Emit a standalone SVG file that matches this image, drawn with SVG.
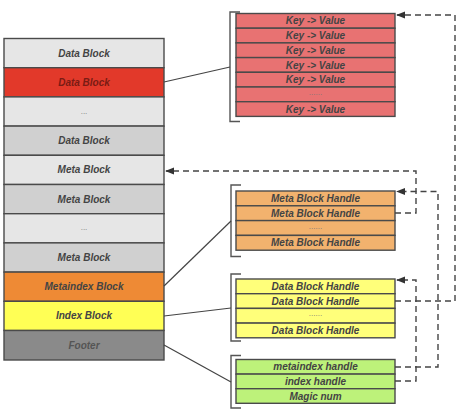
<svg xmlns="http://www.w3.org/2000/svg" width="464" height="410" viewBox="0 0 464 410">
<defs>
<marker id="ah" viewBox="0 0 10 10" refX="9" refY="5" markerWidth="9" markerHeight="9" markerUnits="userSpaceOnUse" orient="auto">
<path d="M0,1 L10,5 L0,9 z" fill="#333"/>
</marker>
<style>
.cell{stroke:#4a4a4a;stroke-width:1.4}
.t{font-family:"Liberation Sans",Arial,sans-serif;font-size:10px;font-weight:bold;font-style:italic;fill:#444;text-anchor:middle;dominant-baseline:central}
.dots{font-family:"Liberation Sans",Arial,sans-serif;font-size:8px;fill:#777;text-anchor:middle}
.lg{fill:#e6e6e6}.dg{fill:#d0d0d0}
.kv{fill:#e87272}.mb{fill:#f2b26e}.ib{fill:#ffff7a}.ft{fill:#bdf27a}
.br{fill:none;stroke:#555;stroke-width:1.4}
.ln{fill:none;stroke:#444;stroke-width:1.2}
.ds{fill:none;stroke:#444;stroke-width:1.4;stroke-dasharray:6 4}
</style>
</defs>
<rect width="464" height="410" fill="#fff"/>

<g id="sstable">
<rect class="cell lg" x="4" y="38.5" width="160" height="29.2"/>
<text class="t" x="84" y="53.1">Data Block</text>
<rect class="cell" fill="#e2392a" x="4" y="67.7" width="160" height="29.2"/>
<text class="t" x="84" y="82.3" style="fill:#7a1c14">Data Block</text>
<rect class="cell lg" x="4" y="96.9" width="160" height="29.2"/>
<text class="dots" x="84" y="113.5">...</text>
<rect class="cell dg" x="4" y="126.1" width="160" height="29.2"/>
<text class="t" x="84" y="140.7">Data Block</text>
<rect class="cell lg" x="4" y="155.3" width="160" height="29.2"/>
<text class="t" x="84" y="169.9">Meta Block</text>
<rect class="cell dg" x="4" y="184.5" width="160" height="29.2"/>
<text class="t" x="84" y="199.1">Meta Block</text>
<rect class="cell lg" x="4" y="213.7" width="160" height="29.2"/>
<text class="dots" x="84" y="230.3">...</text>
<rect class="cell dg" x="4" y="242.9" width="160" height="29.2"/>
<text class="t" x="84" y="257.5">Meta Block</text>
<rect class="cell" fill="#ee8a35" x="4" y="272.1" width="160" height="29.2"/>
<text class="t" x="84" y="286.7">Metaindex Block</text>
<rect class="cell" fill="#ffff55" x="4" y="301.3" width="160" height="29.2"/>
<text class="t" x="84" y="315.9">Index Block</text>
<rect class="cell" fill="#8a8a8a" x="4" y="330.5" width="160" height="29.5"/>
<text class="t" x="84" y="345.2" style="fill:#555">Footer</text>
</g>

<g id="datablock">
<path class="br" d="M240,12 H230 V121.5 H240"/>
<rect class="cell kv" x="236" y="13.5" width="159" height="14.7"/>
<text class="t" x="315.5" y="20.9">Key -&gt; Value</text>
<rect class="cell kv" x="236" y="28.2" width="159" height="14.7"/>
<text class="t" x="315.5" y="35.6">Key -&gt; Value</text>
<rect class="cell kv" x="236" y="42.9" width="159" height="14.7"/>
<text class="t" x="315.5" y="50.3">Key -&gt; Value</text>
<rect class="cell kv" x="236" y="57.6" width="159" height="14.7"/>
<text class="t" x="315.5" y="65">Key -&gt; Value</text>
<rect class="cell kv" x="236" y="72.3" width="159" height="14.7"/>
<text class="t" x="315.5" y="79.7">Key -&gt; Value</text>
<rect class="cell kv" x="236" y="87" width="159" height="14.7"/>
<text class="dots" x="315.5" y="95">......</text>
<rect class="cell kv" x="236" y="101.7" width="159" height="14.7"/>
<text class="t" x="315.5" y="109.1">Key -&gt; Value</text>
</g>

<g id="metaindex">
<path class="br" d="M241,185 H231 V256.5 H241"/>
<rect class="cell mb" x="236" y="191" width="159" height="14.8"/>
<text class="t" x="315.5" y="198.4">Meta Block Handle</text>
<rect class="cell mb" x="236" y="205.8" width="159" height="14.8"/>
<text class="t" x="315.5" y="213.2">Meta Block  Handle</text>
<rect class="cell mb" x="236" y="220.6" width="159" height="14.8"/>
<text class="dots" x="315.5" y="228.6">......</text>
<rect class="cell mb" x="236" y="235.4" width="159" height="14.8"/>
<text class="t" x="315.5" y="242.8">Meta Block  Handle</text>
</g>

<g id="index">
<path class="br" d="M241,274 H231 V341 H241"/>
<rect class="cell ib" x="236" y="279" width="159" height="14.7"/>
<text class="t" x="315.5" y="286.4">Data Block Handle</text>
<rect class="cell ib" x="236" y="293.7" width="159" height="14.7"/>
<text class="t" x="315.5" y="301.1">Data Block Handle</text>
<rect class="cell ib" x="236" y="308.4" width="159" height="14.7"/>
<text class="dots" x="315.5" y="316.4">......</text>
<rect class="cell ib" x="236" y="323.1" width="159" height="14.7"/>
<text class="t" x="315.5" y="330.5">Data Block Handle</text>
</g>

<g id="footer">
<path class="br" d="M241,355.5 H231 V408 H241"/>
<rect class="cell ft" x="236" y="359.5" width="159" height="14.6"/>
<text class="t" x="315.5" y="366.8">metaindex handle</text>
<rect class="cell ft" x="236" y="374.1" width="159" height="14.6"/>
<text class="t" x="315.5" y="381.4">index handle</text>
<rect class="cell ft" x="236" y="388.7" width="159" height="14.6"/>
<text class="t" x="315.5" y="396">Magic num</text>
</g>

<g id="connectors">
<line class="ln" x1="164" y1="82" x2="230" y2="67"/>
<line class="ln" x1="164" y1="286" x2="231" y2="221"/>
<line class="ln" x1="164" y1="316" x2="231" y2="308"/>
<line class="ln" x1="164" y1="345" x2="231" y2="382"/>
<path class="ds" d="M395,301 H455 V15 H397" marker-end="url(#ah)"/>
<path class="ds" d="M395,213 H416 V171 H166" marker-end="url(#ah)"/>
<path class="ds" d="M395,367 H438 V191.5 H397" marker-end="url(#ah)"/>
<path class="ds" d="M395,381 H416 V280 H397" marker-end="url(#ah)"/>
</g>
</svg>
